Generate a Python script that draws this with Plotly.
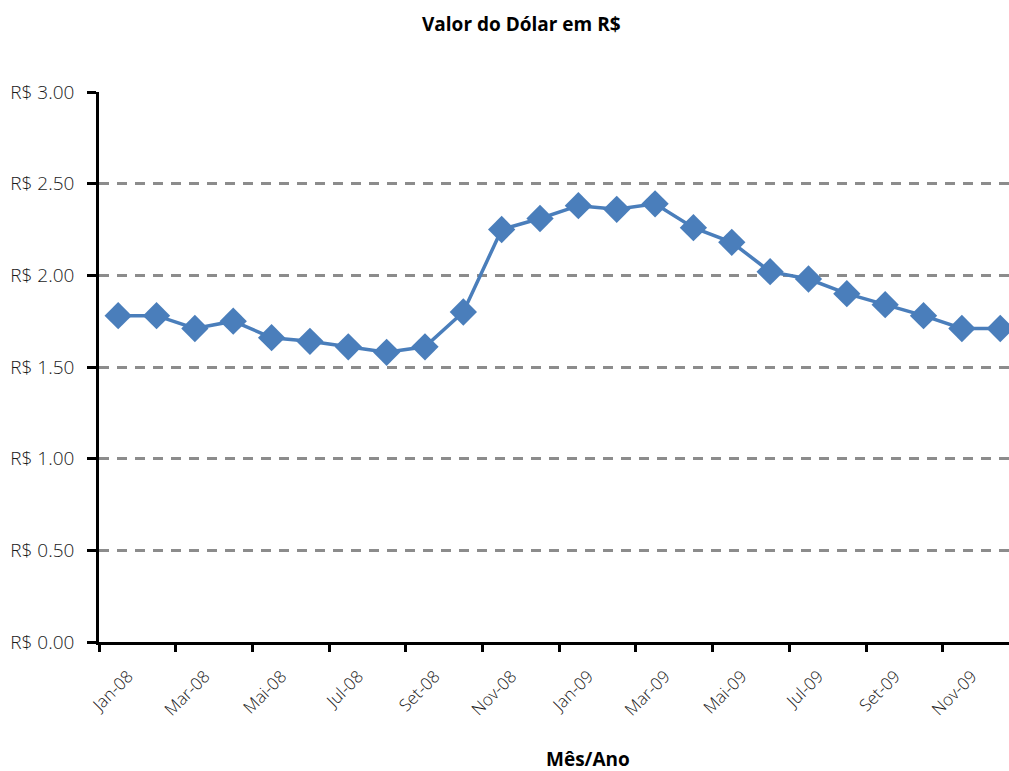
import plotly.graph_objects as go

months = ["Jan-08","Fev-08","Mar-08","Abr-08","Mai-08","Jun-08","Jul-08","Ago-08","Set-08","Out-08","Nov-08","Dez-08",
          "Jan-09","Fev-09","Mar-09","Abr-09","Mai-09","Jun-09","Jul-09","Ago-09","Set-09","Out-09","Nov-09","Dez-09"]
valores = [1.78,1.78,1.71,1.75,1.66,1.64,1.61,1.58,1.61,1.80,2.25,2.31,
           2.38,2.36,2.39,2.26,2.18,2.02,1.98,1.90,1.84,1.78,1.71,1.71]
y_ticks = [0, 0.5, 1.0, 1.5, 2.0, 2.5, 3.0]
y_labels = ["R$ 0.00","R$ 0.50","R$ 1.00","R$ 1.50","R$ 2.00","R$ 2.50","R$ 3.00"]

x = list(range(len(months)))
label_pos = x[::2]
label_txt = months[::2]
tick_bounds = [i - 0.5 for i in x[::2]] + [len(months) - 0.5]

W, H = 1009, 771
left, top, bottom = 99, 92, 129
cat_px = 38.35
xmax = -0.5 + (W - left) / cat_px

fig = go.Figure()
fig.add_trace(go.Scatter(
    x=x, y=valores, mode="lines+markers",
    line=dict(color="#4A7EBB", width=3.5),
    marker=dict(symbol="diamond", size=21, color="#4A7EBB"),
    showlegend=False, cliponaxis=False, xaxis="x", yaxis="y"))
fig.add_trace(go.Scatter(x=[x[0]], y=[valores[0]], mode="markers", marker=dict(opacity=0),
                         showlegend=False, xaxis="x2", yaxis="y", hoverinfo="skip"))

font_main = "Open Sans, Noto Sans, sans-serif"
tick_font = dict(family="Open Sans, Noto Sans, sans-serif", size=19, color="#1a1a1a", weight=300)
fig.update_layout(
    width=W, height=H,
    margin=dict(l=left, r=0, t=top, b=bottom, autoexpand=False),
    paper_bgcolor="white", plot_bgcolor="white",
    font=dict(family=font_main, size=16, color="#222"),
    xaxis=dict(range=[-0.5, xmax], tickvals=label_pos, ticktext=label_txt, tickangle=-45,
               ticks="", showgrid=False, zeroline=False, showline=True, linecolor="black", linewidth=2.5,
               tickfont=dict(tick_font, size=17), automargin=False, ticklabelstandoff=15,
               ticklabelshift=10),
    xaxis2=dict(range=[-0.5, xmax], overlaying="x", side="bottom", tickvals=tick_bounds,
                ticktext=[""] * len(tick_bounds), ticks="outside", ticklen=9, tickwidth=2.5, tickcolor="black",
                showgrid=False, zeroline=False, showline=False, automargin=False),
    yaxis=dict(range=[0, 3], tickvals=y_ticks, ticktext=y_labels, ticks="outside", ticklen=9, tickwidth=2.5,
               tickcolor="black", showline=True, linecolor="black", linewidth=2.5, zeroline=False,
               showgrid=True, gridcolor="#8C8C8C", gridwidth=2.5, griddash="10px,8px",
               ticklabelstandoff=9, tickfont=tick_font, automargin=False),
)
fig.add_annotation(text="<b>Valor do Dólar em R$</b>", xref="paper", yref="paper",
                   x=(521 - left) / (W - left), y=(H - 24 - bottom) / (H - top - bottom),
                   showarrow=False, font=dict(size=19, color="black", family=font_main),
                   xanchor="center", yanchor="middle")
fig.add_annotation(text="<b>Mês/Ano</b>", xref="paper", yref="paper",
                   x=(588 - left) / (W - left), y=(H - 759 - bottom) / (H - top - bottom),
                   showarrow=False, font=dict(size=19, color="black", family=font_main),
                   xanchor="center", yanchor="middle")
fig.write_html("out.html", config={"displayModeBar": False},
               post_script="document.body.style.margin='0';document.body.style.overflow='hidden';")
